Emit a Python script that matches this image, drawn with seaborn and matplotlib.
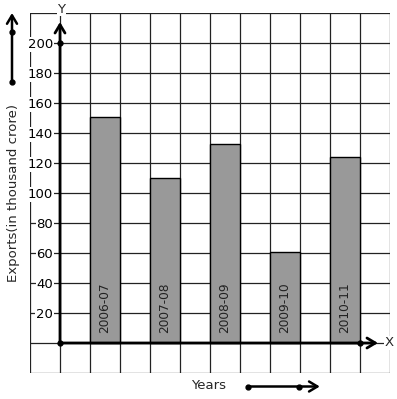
"""
Exports bar chart on graph paper, redrawn with seaborn.
"""

import numpy as np
import pandas as pd
import matplotlib.pyplot as plt
import seaborn as sns

YEARS = ["2006-07", "2007-08", "2008-09", "2009-10", "2010-11"]
EXPORTS = [151, 110, 133, 61, 124]
Y_TICKS = [20, 40, 60, 80, 100, 120, 140, 160, 180, 200]

BAR_COLOR = "#999999"


def main() -> None:
    sns.set_theme(style="white")
    plt.rcParams["font.family"] = ["DejaVu Sans"]

    df = pd.DataFrame({"year": YEARS, "exports": EXPORTS})

    fig = plt.figure(figsize=(3.97, 3.99), dpi=100)
    ax = fig.add_axes([30 / 397, 26 / 399, 360 / 397, 360 / 399])

    sns.barplot(
        data=df,
        x="year",
        y="exports",
        color=BAR_COLOR,
        saturation=1,
        edgecolor="black",
        linewidth=1.0,
        width=0.5,
        ax=ax,
        zorder=2,
    )

    # graph paper: one cell = half a category step, 20 units high
    ax.set_xlim(-1.25, 4.75)
    ax.set_ylim(-20, 220)
    for gx in np.arange(-1.25, 4.76, 0.5):
        ax.axvline(gx, color="#222222", lw=0.9, zorder=1)
    for gy in range(-20, 221, 20):
        ax.axhline(gy, color="#222222", lw=0.9, zorder=1)
    for s in ax.spines.values():
        s.set_visible(False)

    # y tick labels sitting on the grid, left of the y axis
    ax.set_axisbelow(False)
    ax.spines["left"].set_position(("data", -0.75))
    ax.set_yticks(Y_TICKS)
    ax.set_yticklabels([str(v) for v in Y_TICKS])
    ax.tick_params(axis="y", length=0, pad=5, labelsize=9.5, labelcolor="black")
    for lab in ax.get_yticklabels():
        lab.set_bbox(dict(facecolor="white", edgecolor="none", pad=0.6))
    ax.set_xticks([])
    ax.set_xlabel("")
    ax.set_ylabel("")

    # bar names written inside bars
    for i, name in enumerate(YEARS):
        ax.text(i, 6.5, name, rotation=90, ha="center", va="bottom",
                fontsize=8.7, color="#222222", zorder=3)

    # thick axes with open arrow heads
    arrow = dict(arrowstyle="->,head_length=0.5,head_width=0.3", lw=2, color="black",
                 shrinkA=0, shrinkB=0)
    ax.annotate("", xy=(-0.75, 214), xytext=(-0.75, 0), arrowprops=arrow,
                annotation_clip=False, zorder=4)
    ax.annotate("", xy=(4.55, 0), xytext=(-0.75, 0), arrowprops=arrow,
                annotation_clip=False, zorder=4)
    ax.plot([-0.75, -0.75, 4.25], [0, 200, 0], "o", color="black", ms=3.5,
            zorder=5, clip_on=False)
    ax.text(-0.73, 222.5, "Y", ha="center", va="center", fontsize=9.5, zorder=5,
            bbox=dict(facecolor="white", edgecolor="none", pad=0.5))
    ax.text(4.73, 0, "X", ha="center", va="center", fontsize=9.5, zorder=5,
            bbox=dict(facecolor="white", edgecolor="none", pad=0.3))

    # y label with its own arrow above it
    ax.text(-1.53, 100, "Exports(in thousand crore)", rotation=90, ha="center",
            va="center", fontsize=9.5, clip_on=False)
    side = dict(arrowstyle="->,head_length=0.5,head_width=0.3", lw=1.8, color="black",
                shrinkA=0, shrinkB=0)
    ax.annotate("", xy=(-1.55, 220), xytext=(-1.55, 174), arrowprops=side,
                annotation_clip=False)
    ax.plot([-1.55, -1.55], [174, 207.3], "o", color="black", ms=3.5, clip_on=False)

    # x label with arrow
    ax.text(1.73, -28.5, "Years", ha="center", va="center", fontsize=9.5, clip_on=False)
    ax.annotate("", xy=(3.58, -29), xytext=(2.38, -29), arrowprops=side,
                annotation_clip=False)
    ax.plot([2.38, 3.23], [-29, -29], "o", color="black", ms=3.5, clip_on=False)

    fig.savefig("out.png", dpi=100)
    plt.close(fig)


if __name__ == "__main__":
    main()
